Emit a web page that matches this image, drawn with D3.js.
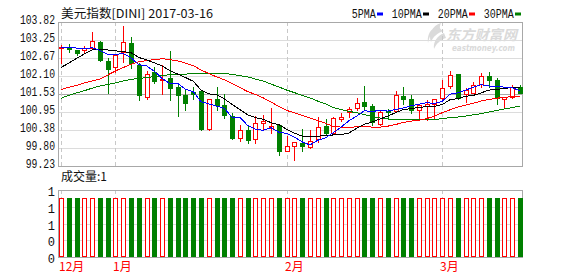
<!DOCTYPE html>
<html><head><meta charset="utf-8">
<script src="https://cdn.jsdelivr.net/npm/d3@7"></script>
<style>html,body{margin:0;padding:0;background:#fff;}svg{display:block;}</style>
</head><body><svg id="c" width="578" height="276"></svg>
<script>
// ---- data ----
const opens = [102.98,103.01,102.93,102.93,102.98,103.19,102.59,102.38,102.85,103.14,
102.45,101.44,102.22,101.96,102.04,101.74,101.49,101.60,101.62,100.40,
101.36,101.17,100.82,100.11,100.38,100.08,100.61,100.45,100.54,99.72,
99.88,99.95,99.82,100.08,100.50,100.29,100.74,100.95,101.07,101.28,
101.13,100.58,100.98,100.99,101.46,101.37,101.03,101.14,101.22,101.39,
101.78,102.15,101.51,101.57,101.83,102.10,101.97,101.36,101.42,101.75];
const highs = [103.09,103.12,102.94,103.06,103.50,103.21,102.68,102.78,103.70,103.35,
102.50,102.26,102.39,102.45,102.90,101.87,101.65,101.74,101.64,101.37,
101.75,101.53,100.91,100.54,100.54,100.81,100.84,101.08,100.57,100.19,
100.00,100.41,100.38,100.79,100.72,100.78,100.91,101.12,101.39,101.78,
101.21,101.03,101.05,101.62,101.76,101.49,101.21,101.33,101.37,101.96,
102.26,102.16,101.71,101.91,102.18,102.24,102.03,101.44,101.80,101.80];
const lows = [102.52,102.87,102.77,102.82,102.97,102.58,101.57,102.24,102.55,102.34,
101.33,101.35,101.87,101.53,101.33,100.81,101.01,101.36,100.39,100.38,
101.01,100.76,100.10,100.04,99.96,99.95,100.40,100.28,99.58,99.71,
99.42,99.72,99.79,100.00,100.22,100.27,100.65,100.80,101.01,101.01,
100.54,100.55,100.73,100.97,101.21,100.93,100.72,100.71,100.72,101.33,
101.71,101.38,101.27,101.56,101.76,101.75,101.22,101.08,101.39,101.55];
const closes = [103.02,102.97,102.84,102.98,103.21,102.61,102.33,102.77,103.17,102.52,
101.49,102.15,101.94,101.99,101.73,101.50,101.23,101.54,100.40,101.36,
101.17,100.86,100.11,100.39,100.07,100.59,100.67,100.52,99.72,99.87,
99.99,99.88,100.03,100.48,100.29,100.75,100.78,101.04,101.23,101.14,
100.64,100.95,100.94,101.49,101.38,101.01,101.17,101.21,101.35,101.73,
102.13,101.39,101.66,101.80,102.10,101.97,101.39,101.43,101.75,101.56];
const volumes = [1,1,1,1,1,1,1,1,1,1, 1,1,1,1,1,1,1,1,1,1, 1,1,1,1,1,1,1,1,1,1,
1,1,1,1,1,1,1,1,1,1, 1,1,1,1,1,1,1,1,1,1, 1,1,1,1,1,1,1,1,1,1];
const ma5 = [103.01,103.01,102.99,102.96,103.00,102.92,102.79,102.78,102.82,102.68,
102.46,102.42,102.25,102.02,101.86,101.86,101.68,101.60,101.28,101.21,
101.14,101.07,100.78,100.78,100.52,100.40,100.37,100.45,100.31,100.27,
100.15,100.00,99.90,100.05,100.13,100.29,100.47,100.67,100.82,100.99,
100.97,101.00,100.98,101.03,101.08,101.15,101.20,101.25,101.22,101.29,
101.52,101.56,101.65,101.74,101.82,101.78,101.78,101.74,101.73,101.62];
const ma10 = [102.37,102.51,102.66,102.80,102.93,102.96,102.93,102.90,102.88,102.84,
102.69,102.61,102.52,102.42,102.27,102.16,102.05,101.93,101.65,101.53,
101.50,101.37,101.19,101.03,100.86,100.77,100.72,100.61,100.55,100.40,
100.28,100.18,100.17,100.18,100.20,100.22,100.23,100.28,100.43,100.56,
100.63,100.73,100.82,100.93,101.03,101.06,101.10,101.12,101.13,101.19,
101.34,101.38,101.45,101.48,101.56,101.65,101.67,101.70,101.74,101.72];
const ma20 = [101.67,101.74,101.80,101.88,101.94,102.00,102.13,102.26,102.37,102.47,
102.55,102.59,102.62,102.65,102.62,102.58,102.51,102.43,102.29,102.18,
102.07,101.98,101.86,101.73,101.60,101.51,101.40,101.27,101.13,101.00,
100.93,100.84,100.76,100.68,100.59,100.49,100.47,100.46,100.48,100.49,
100.47,100.47,100.50,100.55,100.62,100.66,100.69,100.74,100.82,100.93,
101.02,101.11,101.17,101.23,101.30,101.35,101.39,101.42,101.44,101.45];
const ma30 = [101.39,101.48,101.56,101.63,101.71,101.78,101.83,101.88,101.94,101.99,
102.02,102.05,102.08,102.11,102.14,102.15,102.16,102.17,102.18,102.18,
102.18,102.18,102.15,102.11,102.07,102.00,101.94,101.84,101.75,101.65,
101.57,101.48,101.40,101.30,101.21,101.09,101.03,100.97,100.93,100.87,
100.81,100.76,100.73,100.72,100.71,100.70,100.70,100.70,100.71,100.74,
100.77,100.79,100.82,100.86,100.90,100.95,101.00,101.05,101.09,101.14];
const priceTicks = [103.82,103.2463,102.6725,102.0988,101.525,100.9513,100.3775,99.8038,99.23];
const priceTickLabels = ["103.82","103.25","102.67","102.10","101.53","100.95","100.38","99.80","99.23"];
const volTicks = [1.14,0.855,0.57,0.285,0];
const volTickLabels = ["1","1","1","0","0"];
const monthIdx = [0,7,29,49];
const monthLabels = ["12月","1月","2月","3月"];
const legendNames = ["5PMA","10PMA","20PMA","30PMA"];
const legendColors = ["#0000ff","#000000","#ff0000","#008000"];
const titleText = "美元指数[DINI] 2017-03-16";
const volTitle = "成交量:1";

// ---- layout ----
const L = 58.5, R = 522.5;
const pTop = 22, pBot = 166, vTop = 190, vBot = 257;
const RED = "#ff0000", GREEN = "#008000";
const GRID = "#dcdcdc", BORDER = "#a8a8a8";

const svg = d3.select("#c");
svg.append("rect").attr("width",578).attr("height",276).attr("fill","#fff");

const x = d3.scaleLinear().domain([0, closes.length-1]).range([61, 520]);
const y = d3.scaleLinear().domain([99.23, 103.82]).range([pBot, pTop]);
const yv = d3.scaleLinear().domain([0, 1.14]).range([vBot, vTop]);
const px = v => Math.round(v) + 0.5;

// watermark
const wm = svg.append("g").attr("fill","#dadada");
wm.append("path").attr("d","M441,23 C432,26 428,34 431,42 C433,37 437,33 444,31 C438,29 440,26 441,23 Z M444,33 C437,36 433,42 434,49 C436,44 440,40 446,38 Z M434,28 C429,31 427,37 428,43 C429,38 431,33 434,28 Z");
wm.append("text").attr("x",446).attr("y",39.5).attr("font-family","Noto Sans CJK SC").attr("font-weight","bold")
  .attr("font-size",14).attr("font-style","italic").attr("textLength",71).attr("lengthAdjust","spacingAndGlyphs").text("东方财富网");
wm.append("text").attr("x",452).attr("y",51).attr("font-family","DejaVu Sans").attr("font-weight","bold")
  .attr("font-size",8.5).attr("font-style","italic").attr("textLength",63).attr("lengthAdjust","spacingAndGlyphs").text("eastmoney.com");

// price grid
priceTicks.forEach((t,i) => {
  if (i === 0 || i === priceTicks.length-1) return;
  svg.append("line").attr("x1",L).attr("x2",R).attr("y1",px(y(t))).attr("y2",px(y(t)))
    .attr("stroke", i === 4 ? BORDER : GRID).attr("stroke-width",1);
});
// volume grid
volTicks.forEach((t,i) => {
  if (i === 0 || i === volTicks.length-1) return;
  svg.append("line").attr("x1",L).attr("x2",R).attr("y1",px(yv(t))).attr("y2",px(yv(t)))
    .attr("stroke",GRID).attr("stroke-width",1);
});
// month dashed lines
monthIdx.forEach(mi => {
  [[pTop,pBot],[vTop,vBot]].forEach(([a,b]) => {
    svg.append("line").attr("x1",px(x(mi))).attr("x2",px(x(mi))).attr("y1",a).attr("y2",b)
      .attr("stroke","#c8c8c8").attr("stroke-dasharray","4,3");
  });
});
// borders
[[pTop,pBot],[vTop,vBot]].forEach(([a,b]) => {
  svg.append("rect").attr("x",L).attr("y",a+0.5).attr("width",R-L).attr("height",b-a)
    .attr("fill","none").attr("stroke",BORDER);
});

// candles
const cg = svg.append("g");
closes.forEach((c,i) => {
  const o = opens[i], h = highs[i], l = lows[i];
  const up = c >= o;
  const col = up ? RED : GREEN;
  const cx = Math.round(x(i));
  const yTop = Math.round(y(Math.max(o,c))), yBot = Math.round(y(Math.min(o,c)));
  const yH = Math.round(y(h)), yL = Math.round(y(l));
  const bh = yBot - yTop;
  if (yH < yTop) cg.append("line").attr("x1",cx+0.5).attr("x2",cx+0.5).attr("y1",yH).attr("y2",yTop).attr("stroke",col);
  if (yL > yBot) cg.append("line").attr("x1",cx+0.5).attr("x2",cx+0.5).attr("y1",yBot+(bh<1?1:0)).attr("y2",yL+1).attr("stroke",col);
  if (bh < 2) {
    cg.append("rect").attr("x",cx-2).attr("y",yTop).attr("width",5).attr("height",Math.max(bh,1)+(bh<1?0:1)).attr("fill",col);
  } else if (up) {
    cg.append("rect").attr("x",cx-1.5).attr("y",yTop+0.5).attr("width",4).attr("height",bh).attr("fill","#fff").attr("stroke",col);
  } else {
    cg.append("rect").attr("x",cx-2).attr("y",yTop).attr("width",5).attr("height",bh+1).attr("fill",col);
  }
});

// moving averages
const line = d3.line().x((d,i) => x(i)).y(d => y(d));
[[ma30,GREEN],[ma20,RED],[ma10,"#000000"],[ma5,"#0000ff"]].forEach(([arr,col]) => {
  svg.append("path").attr("d",line(arr)).attr("fill","none").attr("stroke",col).attr("stroke-width",1)
    .attr("shape-rendering","crispEdges");
});

// volume bars
const vg = svg.append("g");
volumes.forEach((v,i) => {
  const up = closes[i] >= opens[i];
  const cx = Math.round(x(i));
  const top = Math.round(yv(v));
  if (up) {
    vg.append("rect").attr("x",cx-1.5).attr("y",top+0.5).attr("width",4).attr("height",vBot-top-1)
      .attr("fill","#fff").attr("stroke",RED);
  } else {
    vg.append("rect").attr("x",cx-2).attr("y",top).attr("width",5).attr("height",vBot-top).attr("fill",GREEN);
  }
});

// labels
const mono = "Liberation Mono, DejaVu Sans Mono, monospace";
priceTicks.forEach((t,i) => {
  const s = priceTickLabels[i];
  svg.append("text").attr("x",55).attr("y",Math.round(y(t))+1.5).attr("text-anchor","end")
    .attr("font-family",mono).attr("font-size",12).attr("fill","#111")
    .attr("textLength",s.length*5.85).attr("lengthAdjust","spacingAndGlyphs").text(s);
});
volTicks.forEach((t,i) => {
  svg.append("text").attr("x",55).attr("y",Math.round(yv(t))+5.5).attr("text-anchor","end")
    .attr("font-family",mono).attr("font-size",12).attr("fill","#111").text(volTickLabels[i]);
});
monthIdx.forEach((mi,k) => {
  svg.append("text").attr("x",Math.round(x(mi))-2).attr("y",271).attr("font-family","Noto Sans CJK SC")
    .attr("font-size",12).attr("fill",RED).text(monthLabels[k]);
});
svg.append("text").attr("x",61).attr("y",18).attr("font-family","Noto Sans CJK SC").attr("font-size",12)
  .attr("fill","#111").attr("textLength",152).attr("lengthAdjust","spacingAndGlyphs").text(titleText);
svg.append("text").attr("x",61).attr("y",181).attr("font-family","Noto Sans CJK SC").attr("font-size",12)
  .attr("fill","#111").attr("textLength",46).attr("lengthAdjust","spacingAndGlyphs").text(volTitle);

// legend
let lx = 351.7;
legendNames.forEach((n,i) => {
  const w = n.length*6;
  svg.append("text").attr("x",lx).attr("y",18.3).attr("font-family",mono).attr("font-size",12)
    .attr("fill","#111").attr("textLength",w).attr("lengthAdjust","spacingAndGlyphs").text(n);
  svg.append("rect").attr("x",Math.round(lx+w+1.5)).attr("y",12.5).attr("width",6).attr("height",3).attr("fill",legendColors[i]);
  lx += w + 1.5 + 6 + 8.5;
});
</script></body></html>
